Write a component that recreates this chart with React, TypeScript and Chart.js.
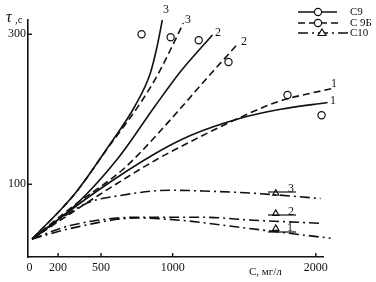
import React, { useEffect, useRef } from "react";
import { Chart, registerables } from "chart.js";

Chart.register(...registerables);

const SERIF = "'Liberation Serif', 'DejaVu Serif', serif";

// curves [C, tau]
const c9_3x = [19, 320, 550, 739, 844, 893, 928];
const c9_3y = [27, 88, 150, 205, 248, 285, 319];
const c9b_3x = [19, 320, 550, 774, 893, 984, 1075];
const c9b_3y = [27, 88, 149, 208, 245, 279, 315];
const c9_2x = [19, 320, 620, 880, 1054, 1278];
const c9_2y = [27, 72, 135, 205, 250, 299];
const c9b_2x = [19, 300, 648, 788, 1054, 1228, 1459];
const c9b_2y = [27, 70, 119, 145, 201, 239, 288];
const c9_1x = [19, 480, 879, 1124, 1473, 1753, 2082];
const c9_1y = [27, 92, 141, 165, 188, 200, 209];
const c9b_1x = [19, 480, 879, 1005, 1404, 1704, 1823, 2124];
const c9b_1y = [27, 85, 132, 145, 183, 208, 215, 228];
const c10_3x = [19, 403, 634, 984, 1214, 1564, 2033];
const c10_3y = [27, 75, 85, 92, 91, 88, 81];
const c10_2x = [19, 285, 753, 1214, 1564, 2033];
const c10_2y = [27, 45, 56, 56, 52, 48];
const c10_1x = [19, 285, 753, 1054, 1452, 1753, 2103];
const c10_1y = [27, 41, 55, 52, 43, 36, 28];

// experimental points
const c9PtsX = [783, 1182, 2040];
const c9PtsY = [300, 292, 192];
const c9bPtsX = [986, 1390, 1802];
const c9bPtsY = [296, 263, 219];
const c10PtsX = [1720, 1720, 1720];
const c10PtsY = [88, 61, 41];

const xTicks = [0, 200, 500, 1000, 2000];
const yTicks = [100, 300];

const zip = (xs: number[], ys: number[]) => xs.map((x, i) => ({ x, y: ys[i] }));

const DASH = [7, 4];
const DASHDOT = [10, 4, 2, 4];

function line(xs: number[], ys: number[], dash: number[]) {
  return {
    type: "line" as const,
    data: zip(xs, ys),
    borderColor: "#111",
    borderWidth: 1.6,
    borderDash: dash,
    pointRadius: 0,
    cubicInterpolationMode: "monotone" as const,
    fill: false,
    clip: false as any,
  };
}

function pts(xs: number[], ys: number[], style: string) {
  return {
    type: "scatter" as const,
    data: zip(xs, ys),
    pointStyle: style,
    pointRadius: 3.6,
    pointBorderWidth: 1.2,
    pointBackgroundColor: "#fff",
    pointBorderColor: "#111",
    showLine: false,
    clip: false as any,
  };
}

const overlay = {
  id: "overlay",
  afterDraw(chart: any) {
    const ctx = chart.ctx;
    const xs = chart.scales.x;
    const ys = chart.scales.y;
    const a = chart.chartArea;
    ctx.save();
    ctx.strokeStyle = "#111";
    ctx.lineWidth = 1.4;
    // tick marks
    xTicks.forEach((t) => {
      if (t === 0) return;
      const px = xs.getPixelForValue(t);
      ctx.beginPath();
      ctx.moveTo(px, a.bottom);
      ctx.lineTo(px, a.bottom - 4);
      ctx.stroke();
    });
    yTicks.forEach((t) => {
      const py = ys.getPixelForValue(t);
      ctx.beginPath();
      ctx.moveTo(a.left, py);
      ctx.lineTo(a.left + 4, py);
      ctx.stroke();
    });
    ctx.fillStyle = "#111";
    ctx.textBaseline = "middle";
    ctx.textAlign = "center";
    ctx.font = `12px ${SERIF}`;
    const lbl = (s: string, x: number, y: number) => ctx.fillText(s, x, y);
    lbl("3", 166, 10);
    lbl("3", 188, 20);
    lbl("2", 218, 33);
    lbl("2", 244, 42);
    lbl("1", 334, 84);
    lbl("1", 333, 101);
    lbl("3", 291, 189);
    lbl("2", 291, 212);
    lbl("1", 290, 228);
    // underlines near triangle labels
    ctx.lineWidth = 1.2;
    [[192, 296], [215, 296], [232, 296]].forEach(([y, x2]) => {
      ctx.beginPath();
      ctx.moveTo(268, y);
      ctx.lineTo(x2, y);
      ctx.stroke();
    });
    // axis titles
    ctx.textAlign = "left";
    ctx.font = `italic 16px ${SERIF}`;
    ctx.fillText("τ", 6, 18);
    ctx.font = `11px ${SERIF}`;
    ctx.fillText(",c", 15, 20);
    ctx.font = `11px ${SERIF}`;
    ctx.fillText("C, мг/л", 249, 272);
    // legend
    const rows = [
      { y: 12, dash: [] as number[], mk: "circle", t: "C9", x2: 337 },
      { y: 23, dash: DASH, mk: "circle", t: "C 9Б", x2: 342 },
      { y: 33, dash: DASHDOT, mk: "triangle", t: "C10", x2: 348 },
    ];
    rows.forEach((r) => {
      ctx.lineWidth = 1.6;
      ctx.setLineDash(r.dash);
      ctx.beginPath();
      ctx.moveTo(298, r.y);
      ctx.lineTo(r.x2, r.y);
      ctx.stroke();
      ctx.setLineDash([]);
      ctx.lineWidth = 1.2;
      ctx.fillStyle = "#fff";
      ctx.beginPath();
      if (r.mk === "circle") {
        ctx.arc(318, r.y, 3.6, 0, Math.PI * 2);
      } else {
        ctx.moveTo(322, r.y - 4);
        ctx.lineTo(326, r.y + 2.5);
        ctx.lineTo(318, r.y + 2.5);
        ctx.closePath();
      }
      ctx.fill();
      ctx.stroke();
      ctx.fillStyle = "#111";
      ctx.font = `11px ${SERIF}`;
      ctx.fillText(r.t, 350, r.y);
    });
    ctx.restore();
  },
};

export default function App() {
  const ref = useRef<HTMLCanvasElement | null>(null);
  useEffect(() => {
    if (!ref.current) return;
    const chart = new Chart(ref.current, {
      type: "line",
      data: {
        datasets: [
          line(c9_3x, c9_3y, []),
          line(c9b_3x, c9b_3y, DASH),
          line(c9_2x, c9_2y, []),
          line(c9b_2x, c9b_2y, DASH),
          line(c9_1x, c9_1y, []),
          line(c9b_1x, c9b_1y, DASH),
          line(c10_3x, c10_3y, DASHDOT),
          line(c10_2x, c10_2y, DASHDOT),
          line(c10_1x, c10_1y, DASHDOT),
          pts(c9PtsX, c9PtsY, "circle"),
          pts(c9bPtsX, c9bPtsY, "circle"),
          pts(c10PtsX, c10PtsY, "triangle"),
        ] as any,
      },
      options: {
        animation: false,
        responsive: false,
        maintainAspectRatio: false,
        layout: { padding: { top: 20, right: 53, left: 0, bottom: 0 } },
        plugins: { legend: { display: false }, tooltip: { enabled: false } },
        scales: {
          x: {
            type: "linear",
            min: -10,
            max: 2050,
            grid: { display: false, drawTicks: false },
            border: { display: true, color: "#111", width: 1.6 },
            afterBuildTicks: (s: any) => {
              s.ticks = xTicks.map((v) => ({ value: v }));
            },
            afterFit: (s: any) => {
              s.height = 25;
            },
            ticks: {
              color: "#111",
              padding: 4,
              maxRotation: 0,
              autoSkip: false,
              font: { family: SERIF, size: 12 },
              callback: (v: any) => String(v),
            },
          },
          y: {
            type: "linear",
            min: 3,
            max: 319,
            grid: { display: false, drawTicks: false },
            border: { display: true, color: "#111", width: 1.6 },
            afterBuildTicks: (s: any) => {
              s.ticks = yTicks.map((v) => ({ value: v }));
            },
            afterFit: (s: any) => {
              s.width = 28;
            },
            ticks: {
              color: "#111",
              padding: 2,
              font: { family: SERIF, size: 12 },
              callback: (v: any) => String(v),
            },
          },
        },
      },
      plugins: [overlay],
    });
    return () => chart.destroy();
  }, []);
  return (
    <div style={{ position: "fixed", left: 0, top: 0, width: 376, height: 282, background: "#fff" }}>
      <canvas ref={ref} width={376} height={282} style={{ display: "block", width: 376, height: 282 }} />
    </div>
  );
}
